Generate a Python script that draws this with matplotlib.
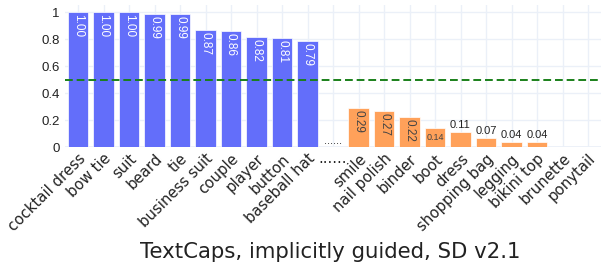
import numpy as np
import matplotlib.pyplot as plt

# Dados
cats_alto = ['cocktail dress', 'bow tie', 'suit', 'beard', 'tie', 'business suit',
             'couple', 'player', 'button', 'baseball hat']
vals_alto = [1.00, 1.00, 1.00, 0.99, 0.99, 0.87, 0.86, 0.82, 0.81, 0.79]
cats_baixo = ['smile', 'nail polish', 'binder', 'boot', 'dress', 'shopping bag',
              'legging', 'bikini top', 'brunette', 'ponytail']
vals_baixo = [0.29, 0.27, 0.22, 0.14, 0.11, 0.07, 0.04, 0.04, 0.00, 0.00]
separador = '......'
limiar = 0.5
titulo = 'TextCaps, implicitly guided, SD v2.1'

azul = '#636EFA'
laranja = '#FFA15A'
grade = '#EBF0F8'

cats = cats_alto + [separador] + cats_baixo
vals = vals_alto + [0.0] + vals_baixo
cores = [azul] * len(cats_alto) + ['none'] + [laranja] * len(cats_baixo)
x = np.arange(len(cats))

fig = plt.figure(figsize=(6.05, 2.68), dpi=100)
ax = fig.add_axes([65.25 / 605, 121 / 268, 535.5 / 605, 141.8 / 268])

# grade estilo plotly_white
for xi in x:
    ax.axvline(xi, color=grade, lw=1, zorder=0)
for yi in [0.2, 0.4, 0.6, 0.8, 1.0]:
    ax.axhline(yi, color=grade, lw=1, zorder=0)
ax.axhline(0, color=grade, lw=2, zorder=0)

ax.bar(x, vals, width=0.8, color=cores, edgecolor='white', linewidth=0.5, zorder=2)

ax.axhline(limiar, color='#1a801a', lw=1.4, ls=(0, (4, 2)), zorder=3)

# rótulos de valor
fonte = 'Liberation Sans'
for xi, v, c in zip(x, vals, cores):
    if c == 'none' or v == 0:
        continue
    txt = f'{v:.2f}'
    cor_txt = 'white' if c == azul else '#444444'
    if v >= 0.2:
        ax.text(xi, v - 0.015, txt, rotation=-90, ha='center', va='top',
                color=cor_txt, fontsize=8.5, family=fonte, zorder=4)
    elif v >= 0.13:
        ax.text(xi, v / 2, txt, ha='center', va='center',
                color=cor_txt, fontsize=6.5, family=fonte, zorder=4)
    else:
        ax.text(xi, v + 0.015, txt, ha='center', va='bottom',
                color='#222222', fontsize=8, family=fonte, zorder=4)

ax.text(cats.index(separador), 0.01, separador, ha='center', va='bottom',
        color='#222222', fontsize=8, family=fonte)

ax.set_xlim(-0.5, len(cats) - 0.5)
ax.set_ylim(0, 1.0526)
ax.set_yticks([0, 0.2, 0.4, 0.6, 0.8, 1.0])
ax.set_yticklabels(['0', '0.2', '0.4', '0.6', '0.8', '1'], family=fonte,
                   fontsize=9.5, color='#222222')
ax.set_xticks(x)
ax.set_xticklabels(cats, rotation=45, ha='right', rotation_mode='anchor',
                   fontsize=10.7, color='#222222')
lab_sep = ax.get_xticklabels()[cats.index(separador)]
lab_sep.set_rotation(0)
lab_sep.set_ha('center')
ax.tick_params(length=0, axis='y', pad=4)
ax.tick_params(length=0, axis='x', pad=3)
for s in ax.spines.values():
    s.set_visible(False)

fig.text(330 / 605, 1 - 252 / 268, titulo, ha='center', va='center',
         fontsize=15.3, color='#222222')

fig.savefig('out.png', dpi=100)
